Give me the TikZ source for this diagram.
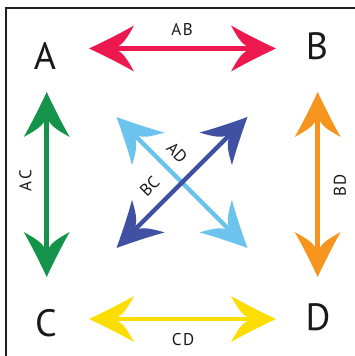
\documentclass[tikz,border=0pt]{standalone}
\usepackage{fontspec}
\setmainfont{PT Sans}
\definecolor{cred}{RGB}{237,25,78}
\definecolor{cgreen}{RGB}{19,148,74}
\definecolor{corange}{RGB}{247,148,29}
\definecolor{cyellow}{RGB}{252,221,0}
\definecolor{clblue}{RGB}{108,196,238}
\definecolor{cdblue}{RGB}{64,81,164}
\definecolor{cframe}{RGB}{35,31,32}
\tikzset{
  barb/.pic={\fill (0,0) .. controls (15,7) and (31,15) .. (45,23)
     .. controls (40,14) and (35,5) .. (29,2.25) -- (29,-2.25)
     .. controls (35,-5) and (40,-14) .. (45,-23)
     .. controls (31,-15) and (15,-7) .. (0,0) -- cycle;},
  big/.style={font=\fontsize{38}{40}\selectfont, inner sep=0pt, text=black!90},
  small/.style={font=\fontsize{17}{18}\selectfont, inner sep=0pt, text=black!90},
  shaft/.style={line width=4.5pt, shorten >=24pt, shorten <=24pt}
}
\newcommand{\dblarr}[4]{%
  \draw[shaft,#1] (#2) -- (#3);
  \pic[#1, rotate=#4] at (#2) {barb};
  \pic[#1, rotate=#4+180] at (#3) {barb};
}
\begin{document}
\begin{tikzpicture}[x=1pt,y=1pt]
\useasboundingbox (0,0) rectangle (354,356);
% frame
\draw[cframe, line width=2.3pt] (6,-5) -- (6,348) -- (360,348);
% letters
\node[big] (A) at (45,300) {A};
\node[big] (B) at (317,310) {B};
\node[big] (C) at (46,33) {C};
\node[big] (D) at (318,39) {D};
% arrow end points
\coordinate (ab1) at (89,307.5);
\coordinate (ab2) at (276,307.5);
\coordinate (cd1) at (89,37);
\coordinate (cd2) at (276,37);
\coordinate (ac1) at (46.7,264);
\coordinate (ac2) at (46.7,79);
\coordinate (bd1) at (317.7,264);
\coordinate (bd2) at (317.7,79);
\coordinate (ad1) at (116.5,239);
\coordinate (ad2) at (247.5,108);
\coordinate (bc1) at (247.5,239);
\coordinate (bc2) at (116.5,108);
% arrows
\dblarr{cred}{ab1}{ab2}{0}
\dblarr{cyellow}{cd1}{cd2}{0}
\dblarr{cgreen}{ac1}{ac2}{-90}
\dblarr{corange}{bd1}{bd2}{-90}
\dblarr{clblue}{ad1}{ad2}{-45}
\dblarr{cdblue}{bc1}{bc2}{-135}
% labels
\node[small] (lab) at (182,326) {A\kern1.5pt B};
\node[small] (lcd) at (183,16) {C\kern1.5pt D};
\node[small, rotate=90] (lac) at (25.5,175.5) {A\kern1.5pt C};
\node[small, rotate=90] (lbd) at (340,170.5) {B\kern1.5pt D};
\node[small, rotate=-45] (lad) at (177,203.5) {AD};
\node[small, rotate=45] (lbc) at (149.5,169.5) {BC};
\end{tikzpicture}
\end{document}
